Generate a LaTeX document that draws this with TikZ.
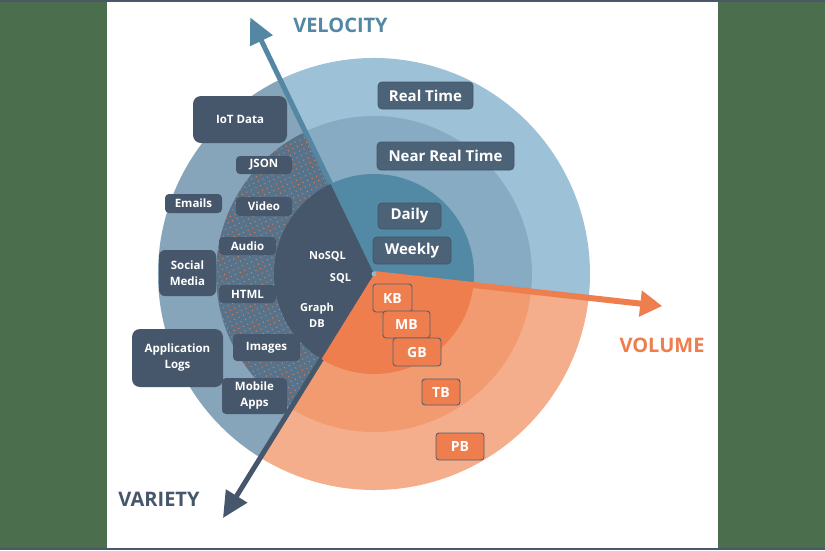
\documentclass[tikz,border=0pt]{standalone}
\usepackage{fontspec}
\setmainfont{Open Sans}
\usetikzlibrary{arrows.meta,patterns.meta}
\definecolor{bgreen}{HTML}{4B6F4C}
\definecolor{frameline}{HTML}{4C586A}
\definecolor{outR}{HTML}{9DC2D8}
\definecolor{midR}{HTML}{86ABC2}
\definecolor{inR}{HTML}{5289A4}
\definecolor{outL}{HTML}{86A5BA}
\definecolor{midL}{HTML}{587389}
\definecolor{inL}{HTML}{46566B}
\definecolor{outO}{HTML}{F5AE8B}
\definecolor{midO}{HTML}{F29A70}
\definecolor{inO}{HTML}{EF7E4F}
\definecolor{slate}{HTML}{46566B}
\definecolor{rslate}{HTML}{4B6277}
\definecolor{velc}{HTML}{5387A3}
\definecolor{obord}{HTML}{4D6075}
\tikzdeclarepattern{name=odots, type=uncolored,
  bounding box={(-1pt,-1pt) and (1pt,1pt)},
  tile size={(5pt,5pt)},
  tile transformation={rotate=25},
  code={\fill (0pt,0pt) circle (0.7pt);}}
\newcommand\mysector[4]{\fill[#1] (C) -- ++(#2:#4) arc[start angle=#2, end angle=#3, radius=#4] -- cycle;}
\begin{document}
\begin{tikzpicture}[x=1pt,y=-1pt,
  lbox/.style={fill=slate, rounded corners=4pt, text=white, inner sep=0pt, align=center,
    font=\fontsize{11.5}{16}\selectfont\bfseries},
  itxt/.style={text=white, inner sep=0pt, align=center, font=\fontsize{11}{16}\selectfont\bfseries},
  rbox/.style={fill=rslate, draw=slate, line width=0.8pt, rounded corners=4pt, text=white, inner sep=0pt,
    font=\fontsize{15}{18}\selectfont\bfseries},
  obox/.style={fill=inO, draw=obord, line width=0.9pt, rounded corners=3pt, text=white, inner sep=0pt,
    font=\fontsize{14}{16}\selectfont\bfseries},
  axlabel/.style={inner sep=0pt, font=\fontsize{20}{22}\selectfont\bfseries}]
\useasboundingbox (0,0) rectangle (825,550);
% background
\fill[white] (0,0) rectangle (825,550);
\fill[bgreen] (0,0) rectangle (107,550);
\fill[bgreen] (718,0) rectangle (825,550);
\fill[frameline] (0,0) rectangle (825,1.5);
\fill[frameline] (0,548) rectangle (825,550);
\coordinate (C) at (374,274);
% outer ring
\mysector{outR}{-115.76}{6.34}{216}
\mysector{outO}{6.34}{121.75}{216}
\mysector{outL}{121.75}{244.24}{216}
% middle ring
\mysector{midR}{-115.76}{6.34}{158}
\mysector{midO}{6.34}{121.75}{158}
\mysector{midL}{121.75}{244.24}{158}
\fill[pattern=odots, pattern color=inO] (C) -- ++(121.75:158) arc[start angle=121.75, end angle=244.24, radius=158] -- cycle;
% inner ring
\mysector{inR}{-115.76}{6.34}{100}
\mysector{inO}{6.34}{121.75}{100}
\mysector{inL}{121.75}{244.24}{100}
% axes
\path (C) ++(-115.76:100) coordinate (vs);
\path (C) ++(-115.76:285) coordinate (vt);
\path (C) ++(121.75:100) coordinate (ys);
\path (C) ++(121.75:287) coordinate (yt);
\path (C) ++(6.34:290) coordinate (ot);
\draw[velc, line width=5pt, -{Triangle[length=26pt,width=24pt]}] (vs) -- (vt);
\draw[slate, line width=5pt, -{Triangle[length=26pt,width=24pt]}] (ys) -- (yt);
\draw[inO, line width=6pt, -{Triangle[length=22pt,width=25pt]}] (C) -- (ot);
\fill[outR!80!gray] (C) circle (2.5);
% axis labels
\node[axlabel, text=velc] (velocity) at (340.5,25) {VELOCITY};
\node[axlabel, text=inO] (volume) at (662,345) {VOLUME};
\node[axlabel, text=slate] (variety) at (159,499.5) {VARIETY};
% variety boxes
\node[lbox, rounded corners=8pt, minimum width=94pt, minimum height=47pt] (iot) at (240,119.5) {IoT Data};
\node[lbox, minimum width=56pt, minimum height=18pt] (json) at (264,165) {JSON};
\node[lbox, minimum width=57pt, minimum height=19pt] (emails) at (193.5,203.5) {Emails};
\node[lbox, minimum width=56pt, minimum height=19pt] (video) at (264,206.5) {Video};
\node[lbox, minimum width=57pt, minimum height=18pt] (audio) at (247.5,246) {Audio};
\node[lbox, rounded corners=6pt, minimum width=57pt, minimum height=46pt] (social) at (187.5,273) {Social\\Media};
\node[lbox, minimum width=57pt, minimum height=18pt] (html) at (247.5,294) {HTML};
\node[lbox, rounded corners=8pt, minimum width=91pt, minimum height=58pt] (applogs) at (177.5,358) {Application\\Logs};
\node[lbox, minimum width=67pt, minimum height=27pt] (images) at (266.5,347.5) {Images};
\node[lbox, minimum width=65pt, minimum height=36pt] (mobile) at (254.5,396) {Mobile\\Apps};
\node[itxt] (nosql) at (327.5,256) {NoSQL};
\node[itxt] (sql) at (340.5,278) {SQL};
\node[itxt] (graphdb) at (317,315) {Graph\\DB};
% velocity boxes
\node[rbox, minimum width=95pt, minimum height=27pt] (realtime) at (425.5,95.5) {Real Time};
\node[rbox, minimum width=137pt, minimum height=28pt] (nearreal) at (445.5,156) {Near Real Time};
\node[rbox, minimum width=63pt, minimum height=26pt] (daily) at (409.5,216) {Daily};
\node[rbox, minimum width=78pt, minimum height=27pt] (weekly) at (412,250.5) {Weekly};
% volume boxes
\node[obox, minimum width=39pt, minimum height=28pt] (kb) at (392.5,298) {KB};
\node[obox, minimum width=47pt, minimum height=27pt] (mb) at (406.5,324.5) {MB};
\node[obox, minimum width=48pt, minimum height=28pt] (gb) at (417,352) {GB};
\node[obox, minimum width=38pt, minimum height=26pt] (tb) at (441,392) {TB};
\node[obox, minimum width=48pt, minimum height=27pt] (pb) at (460,446.5) {PB};
\end{tikzpicture}
\end{document}
